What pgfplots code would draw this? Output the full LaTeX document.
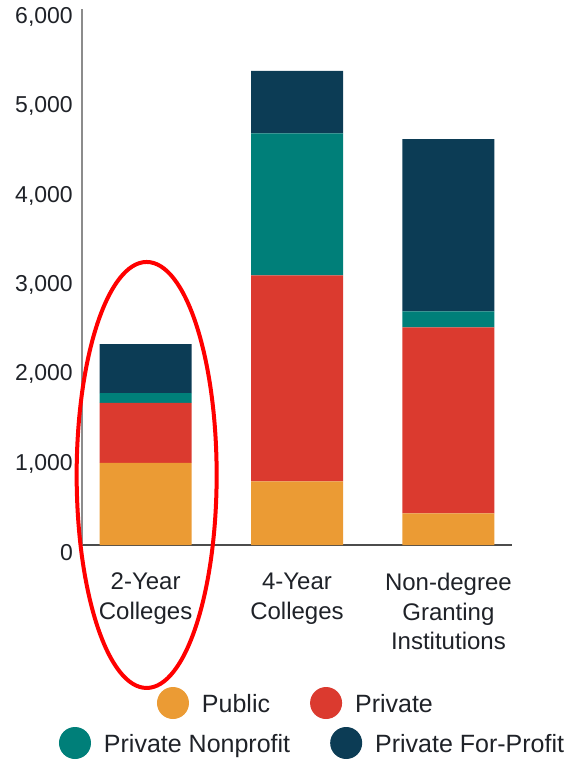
\documentclass[border=0pt]{standalone}
\usepackage{pgfplots}
\pgfplotsset{compat=1.18}
\usepackage{fontspec}
\setmainfont{Liberation Sans}

\definecolor{cpublic}{HTML}{EB9B34}
\definecolor{cprivate}{HTML}{DB3A2F}
\definecolor{cnonprofit}{HTML}{007F79}
\definecolor{cforprofit}{HTML}{0C3C55}
\definecolor{ctext}{HTML}{1F2228}

\pgfplotsset{
  base/.style={
    scale only axis, width=430pt, height=536pt,
    xmin=-0.42, xmax=2.42, ymin=0, ymax=6000,
  },
  dotlegend/.style={
    legend image code/.code={\fill[##1] (16pt,0pt) circle (16pt);},
  },
  mylegend/.style={
    draw=none, fill=none, inner sep=0pt, outer sep=0pt,
    font=\fontsize{25}{30}\selectfont, text=ctext,
    nodes={inner sep=0pt, text depth=0pt},
    column sep=13pt,
    /tikz/every even column/.append style={column sep=40pt},
  },
}

\pgfplotstableread{
x public private nonprofit forprofit
0 918 672 111 549
1 713 2306 1590 697
2 355 2082 179 1926
}\collegedata

\begin{document}
\begin{tikzpicture}
\path[use as bounding box] (-82pt,-220pt) rectangle (488pt,545pt);
\begin{axis}[
  base,
  ybar stacked,
  bar width=92pt,
  clip=false,
  axis x line*=bottom,
  axis y line*=left,
  x axis line style={draw=black!70, line width=1.6pt, -},
  y axis line style={draw=black!45, line width=1.6pt, -},
  major tick length=0pt,
  xtick=data,
  xticklabels={{2-Year\\Colleges},{4-Year\\Colleges},{Non-degree\\Granting\\Institutions}},
  xticklabel style={align=center, font=\fontsize{24}{29.5}\selectfont, text=ctext,
    anchor=north, inner sep=0pt, yshift=-28pt},
  ytick={0,1000,...,6000},
  yticklabel style={font=\fontsize{23}{26}\selectfont, text=ctext,
    anchor=east, inner sep=0pt, xshift=-9pt, yshift=-8pt},
  /pgf/number format/.cd, 1000 sep={,}, assume math mode=true, /pgfplots/.cd,
  legend columns=2,
  legend style={mylegend, at={(0.1744,-0.2948)}, anchor=west},
]
\addplot[fill=cpublic, draw=none, dotlegend] table[x=x, y=public] {\collegedata};
\addlegendentry{Public}
\addplot[fill=cprivate, draw=none, dotlegend] table[x=x, y=private] {\collegedata};
\addlegendentry{Private}
\addplot[fill=cnonprofit, draw=none, forget plot] table[x=x, y=nonprofit] {\collegedata};
\addplot[fill=cforprofit, draw=none, forget plot] table[x=x, y=forprofit] {\collegedata};
\draw[red, line width=4pt] (axis cs:0.007,784) ellipse [x radius=70pt, y radius=213pt];
\end{axis}
\begin{axis}[
  base,
  hide axis,
  legend columns=2,
  legend style={mylegend, at={(-0.0535,-0.3694)}, anchor=west},
]
\addlegendimage{fill=cnonprofit, draw=none, dotlegend}
\addlegendentry{Private Nonprofit}
\addlegendimage{fill=cforprofit, draw=none, dotlegend}
\addlegendentry{Private For-Profit}
\end{axis}
\end{tikzpicture}
\end{document}
